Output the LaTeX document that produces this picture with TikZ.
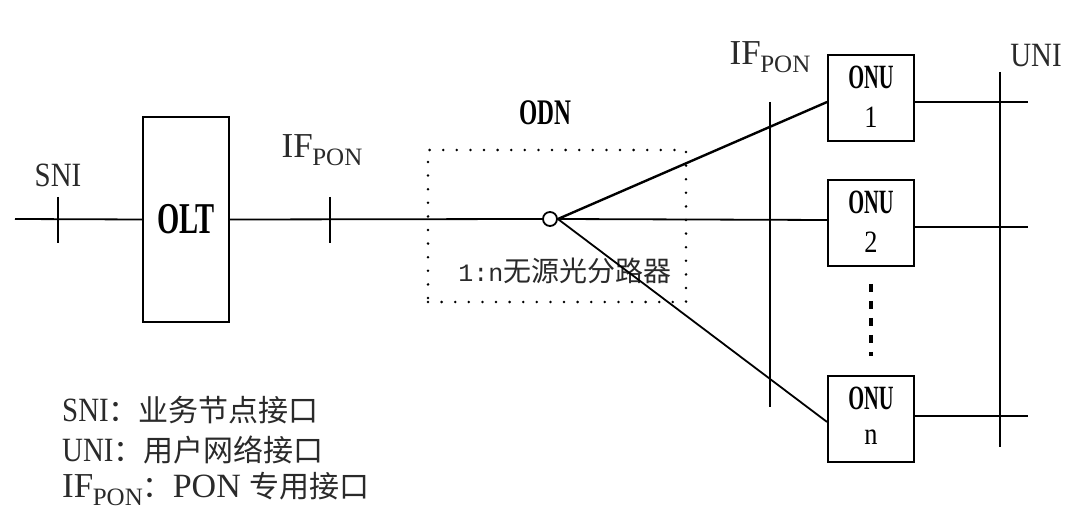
\documentclass[tikz,border=0pt]{standalone}
\usepackage{fontspec}
\setmainfont{Liberation Serif}
\newfontfamily\cond[FakeStretch=0.65]{Liberation Serif}
\newfontfamily\condo[FakeStretch=0.6]{Liberation Serif}
\newfontfamily\condw[FakeStretch=0.85]{Liberation Serif}
\newfontfamily\monof{Liberation Mono}
\newfontfamily\cjk{Noto Sans CJK SC}
\newcommand{\fs}[1]{\fontsize{#1}{#1}\selectfont}
\newcommand{\ifpon}[2]{\fs{#1}IF\kern-0.5pt\raisebox{-0.22em}{\fs{#2}PON}}
\definecolor{txt}{HTML}{2A2A2A}
\begin{document}
\begin{tikzpicture}[x=1pt,y=-1pt,
  wire/.style={line width=1.8pt,black},
  thick wire/.style={line width=2.4pt,black},
  boxnode/.style={draw,line width=1.8pt,inner sep=0pt,text=black,minimum width=86pt,minimum height=86pt},
  lbl/.style={inner sep=0pt,text=txt},
  onut/.style={inner sep=0pt,text=black,font=\condo\bfseries\fs{34}},
  onud/.style={inner sep=0pt,text=black,font=\condw\fs{31}},
]
\useasboundingbox (0,0) rectangle (1080,526);

% OLT side
\coordinate (L) at (15,219);
\coordinate (sni) at (58,219);
\coordinate (ifa) at (330,219);
\node[draw,line width=1.8pt,inner sep=0pt,minimum width=86pt,minimum height=205pt] (olt) at (186,219.5) {\cond\bfseries\fs{44}OLT};
\node[circle,draw,line width=1.8pt,fill=white,inner sep=0pt,minimum size=14pt] (sp) at (550,219) {};

\draw[wire] (L) -- (olt.west);
\draw[wire] (olt.east) -- (sp.west);
\draw[wire] ([yshift=22pt]sni) -- ([yshift=-24pt]sni);
\draw[wire] ([yshift=22pt]ifa) -- ([yshift=-24pt]ifa);

\node[lbl] (snil) at (58,175) {\condw\fs{34}SNI};
\node[lbl] (ifl1) at (322,150) {\ifpon{35}{25}};

% ODN
\node[draw,line width=2.8pt,dash pattern=on 0pt off 13.6pt,line cap=round,minimum width=258pt,minimum height=152pt] (odn) at (557,226) {};
\node[lbl,text=black] (odnl) at (545,113) {\cond\bfseries\fs{36}ODN};
\node[lbl] (spl) at (565,271) {\monof\fs{25}1:n\cjk\fs{28}无源光分路器};

% ONUs
\node[boxnode] (onu1) at (871,98) {};
\node[boxnode] (onu2) at (871,223) {};
\node[boxnode] (onun) at (871,419) {};
\node[onut] (t1) at ([yshift=21pt]onu1.center) {ONU};
\node[onud] (d1) at ([yshift=-19pt]onu1.center) {1};
\node[onut] (t2) at ([yshift=21pt]onu2.center) {ONU};
\node[onud] (d2) at ([yshift=-19pt]onu2.center) {2};
\node[onut] (tn) at ([yshift=21pt]onun.center) {ONU};
\node[onud] (dn) at ([yshift=-18pt]onun.center) {n};

\draw[thick wire] (sp.east) -- ([yshift=-4pt]onu1.west);
\draw[wire] (sp.east) -- ([yshift=3pt]onu2.west);
\draw[wire] (sp.east) -- ([yshift=-3pt]onun.west);

\draw[line width=4pt,dash pattern=on 8pt off 9pt] ([yshift=-17pt]onu2.south) -- ([yshift=19pt]onun.north);

% interfaces
\coordinate (ift) at (770,102);
\coordinate (ifb) at (770,407);
\coordinate (unit) at (1000,72);
\coordinate (unib) at (1000,447);
\draw[wire] (ift) -- (ifb);
\draw[wire] (unit) -- (unib);

\coordinate (o1) at (1028,102);
\coordinate (o2) at (1028,227);
\coordinate (on) at (1028,416);
\draw[thick wire] ([yshift=-4pt]onu1.east) -- (o1);
\draw[wire] ([yshift=-4pt]onu2.east) -- (o2);
\draw[wire] ([yshift=3pt]onun.east) -- (on);

\node[lbl] (ifl2) at (770,57) {\ifpon{35}{25}};
\node[lbl] (unil) at (1036,56) {\condw\fs{34}UNI};

% legend
\node[lbl,anchor=west] (lg1) at (62,410) {\condw\fs{34}SNI\cjk\fs{30}：业务节点接口};
\node[lbl,anchor=west] (lg2) at (62,450) {\condw\fs{34}UNI\cjk\fs{30}：用户网络接口};
\node[lbl,anchor=west] (lg3) at (62,489) {\ifpon{35}{25}\cjk\fs{30}：\rmfamily\fs{34}PON \cjk\fs{30}专用接口};
\end{tikzpicture}
\end{document}
